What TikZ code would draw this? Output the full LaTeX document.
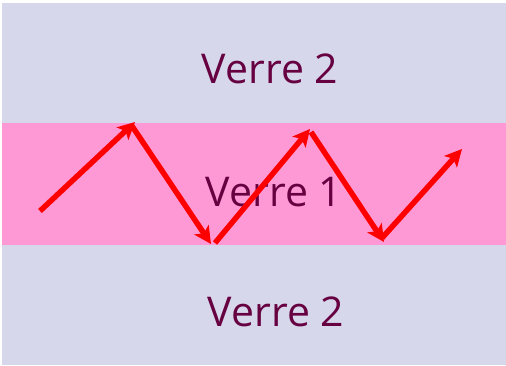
\documentclass[tikz,border=0pt]{standalone}
\usepackage{fontspec}
\setmainfont{Open Sans}
\usetikzlibrary{arrows.meta}
\definecolor{lav}{RGB}{215,215,236}
\definecolor{pinkband}{RGB}{255,153,214}
\definecolor{txt}{RGB}{102,0,64}
\tikzset{
  band/.style={fill=#1, draw=none},
  label/.style={anchor=base, text=txt, font=\fontsize{41}{48}\selectfont, inner sep=0pt},
  ray/.style={draw=red, line width=5.5pt, -{Stealth[length=17pt,width=17pt,inset=4pt]}}
}
\begin{document}
\begin{tikzpicture}[x=1pt,y=-1pt]
\useasboundingbox (0,0) rectangle (506,366);
\fill[white] (0,0) rectangle (506,366);
\path[band=lav] (2,3) rectangle (506,123);
\path[band=pinkband] (2,123) rectangle (506,245);
\path[band=lav] (2,245) rectangle (506,365);
\node[label] (t2) at (270,84) {Verre 2};
\node[label] (t1) at (274,207) {Verre 1};
\node[label] (b2) at (276,326) {Verre 2};
\coordinate (s1) at (40,211);
\coordinate (e1) at (135,122);
\coordinate (s2) at (132,126);
\coordinate (e2) at (211,244);
\coordinate (s3) at (215,243);
\coordinate (e3) at (310,129);
\coordinate (s4) at (311,132);
\coordinate (e4) at (384,242);
\coordinate (s5) at (382,238);
\coordinate (e5) at (462,149);
\draw[ray] (s1) -- (e1);
\draw[ray] (s2) -- (e2);
\draw[ray] (s3) -- (e3);
\draw[ray] (s4) -- (e4);
\draw[ray] (s5) -- (e5);
\end{tikzpicture}
\end{document}
